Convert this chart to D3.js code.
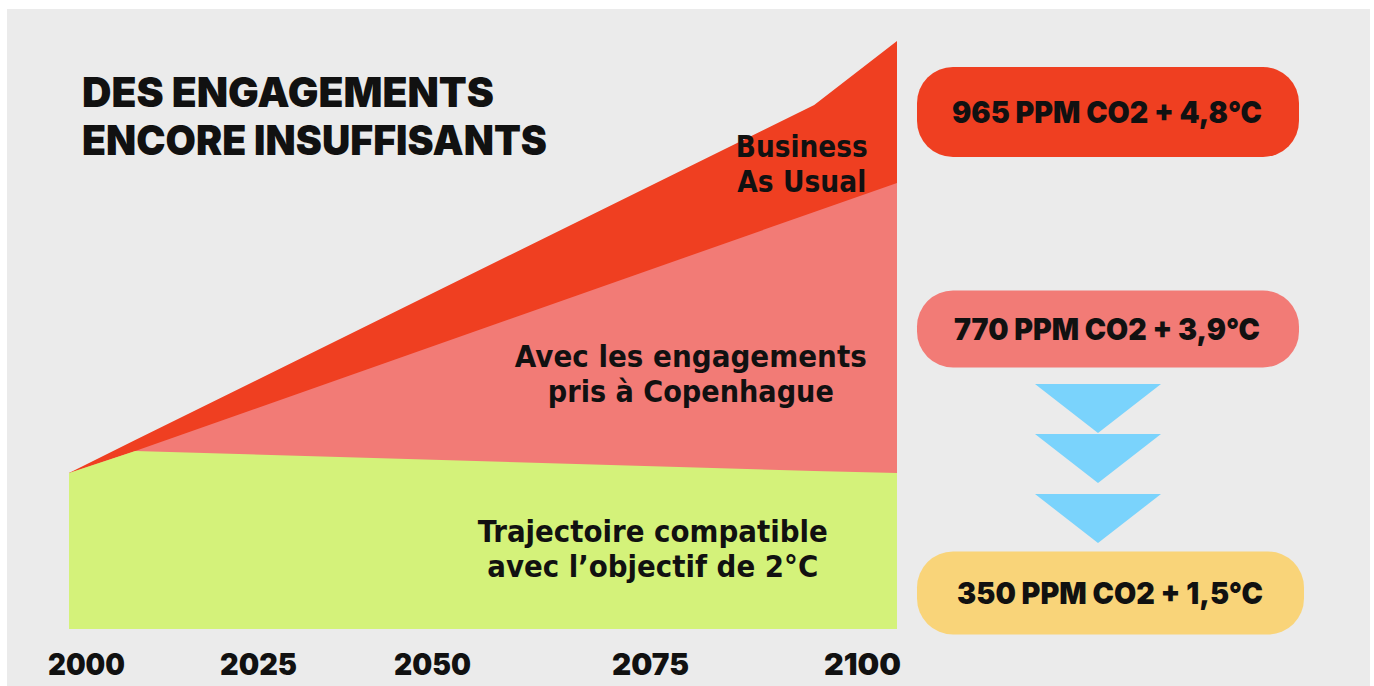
<html>
<head>
  <meta charset="utf-8">
  <title>Des engagements encore insuffisants</title>
  <script src="https://d3js.org/d3.v7.min.js"></script>
  <style>
    body { margin: 0; background: #fff; }
    .display { font-family: Inter, "DejaVu Sans", sans-serif; font-weight: 900; text-transform: uppercase; }
    .narrow { font-family: "Liberation Sans Narrow", "DejaVu Sans Condensed", sans-serif; font-weight: bold; }
  </style>
</head>
<body>
<div id="chart"></div>
<script>
// years of the scenario curves
var years = [2000, 2008, 2090, 2100];
// top of each band (index units, 0 = baseline)
var greenTop = [156, 178, 158, 156];
var pinkTop  = [156, 178, 417, 446];
var redTop   = [156, 189, 524, 588];

var tickYears = [2000, 2025, 2050, 2075, 2100];

var bandLabels = [
  {lines: ["Business", "As Usual"], widths: [132, 129], year: 2088.5, value: 472},
  {lines: ["Avec les engagements", "pris à Copenhague"], widths: [352, 286], year: 2075.1, value: 262},
  {lines: ["Trajectoire compatible", "avec l\u2019objectif de 2°C"], widths: [350, 331], year: 2070.5, value: 87}
];

var outcomes = ["965 ppm CO2 + 4,8°C", "770 ppm CO2 + 3,9°C", "350 ppm CO2 + 1,5°C"];
var outcomeColors = ["#ef3f21", "#f27b76", "#f9d479"];
var arrowCount = 3;

var W = 1374, H = 686;

var svg = d3.select("#chart").append("svg")
    .attr("width", W)
    .attr("height", H);

// grey panel
svg.append("rect")
    .attr("x", 7).attr("y", 9)
    .attr("width", 1363).attr("height", H)
    .attr("fill", "#ebebeb");

var x = d3.scaleLinear().domain([2000, 2100]).range([69, 897]);
var y = d3.scaleLinear().domain([0, 600]).range([629, 29]);

var area = d3.area()
    .x(function(d) { return x(d.year); })
    .y0(function(d) { return y(d.low); })
    .y1(function(d) { return y(d.high); });

function band(top) {
  return years.map(function(yr, i) {
    return {year: yr, high: top[i], low: 0};
  });
}

svg.append("path").datum(band(redTop)).attr("d", area).attr("fill", "#ef3f21");
svg.append("path").datum(band(pinkTop)).attr("d", area).attr("fill", "#f27b76");
svg.append("path").datum(band(greenTop)).attr("d", area).attr("fill", "#d4f27a");

// band labels
bandLabels.forEach(function(b) {
  b.lines.forEach(function(l, i) {
    svg.append("text")
      .attr("class", "narrow")
      .attr("x", x(b.year))
      .attr("y", y(b.value) + i * 35)
      .attr("text-anchor", "middle")
      .attr("font-size", 30)
      .attr("textLength", b.widths[i])
      .attr("lengthAdjust", "spacingAndGlyphs")
      .attr("fill", "#111")
      .text(l);
  });
});

// title
var title = ["Des engagements", "encore insuffisants"];
var titleLen = [412, 465];
title.forEach(function(l, i) {
  svg.append("text")
      .attr("class", "display")
      .attr("x", 82)
      .attr("y", 107 + i * 48)
      .attr("font-size", 41)
      .attr("textLength", titleLen[i])
      .attr("lengthAdjust", "spacingAndGlyphs")
      .attr("fill", "#111")
      .text(l);
});

// x axis labels (the printed labels are not evenly spaced)
var tickX = d3.scaleLinear().domain(tickYears).range([86, 258, 432, 650, 862]);
var axis = svg.append("g")
    .attr("transform", "translate(0,653)")
    .call(d3.axisBottom(tickX).tickValues(tickYears).tickSize(0).tickFormat(d3.format("d")));
axis.select(".domain").remove();
axis.selectAll("text")
    .attr("class", "display")
    .attr("dy", 0)
    .attr("y", 22)
    .attr("font-size", 30)
    .attr("textLength", 77)
    .attr("lengthAdjust", "spacingAndGlyphs")
    .attr("fill", "#111");

// outcome boxes
var boxY = d3.scalePoint().domain(outcomes).range([112, 593]);
var boxH = [90, 77, 83];
var boxes = svg.selectAll(".box").data(outcomes).enter().append("g").attr("class", "box")
    .attr("transform", function(d, i) {
      var cy = i === 1 ? 329 : boxY(d);
      return "translate(0," + cy + ")";
    });
boxes.append("rect")
    .attr("x", 917)
    .attr("y", function(d, i) { return -boxH[i] / 2; })
    .attr("width", function(d, i) { return i === 2 ? 387 : 382; })
    .attr("height", function(d, i) { return boxH[i]; })
    .attr("rx", 36)
    .attr("fill", function(d, i) { return outcomeColors[i]; });
boxes.append("text")
    .attr("class", "display")
    .attr("x", function(d, i) { return i === 2 ? 1110 : 1107; })
    .attr("y", 11)
    .attr("text-anchor", "middle")
    .attr("font-size", 30)
    .attr("textLength", function(d, i) { return i === 0 ? 310 : 306; })
    .attr("lengthAdjust", "spacingAndGlyphs")
    .attr("fill", "#111")
    .text(function(d) { return d; });

// down arrows
var arrowTop = [384, 434, 494];
var tri = d3.range(arrowCount).map(function(i) {
  var t = arrowTop[i];
  return [[1035, t], [1161, t], [1098, t + 49]];
});
svg.selectAll(".arrow").data(tri).enter().append("path")
    .attr("class", "arrow")
    .attr("d", function(d) { return d3.line()(d) + "Z"; })
    .attr("fill", "#7ad3fc");
</script>
</body>
</html>
